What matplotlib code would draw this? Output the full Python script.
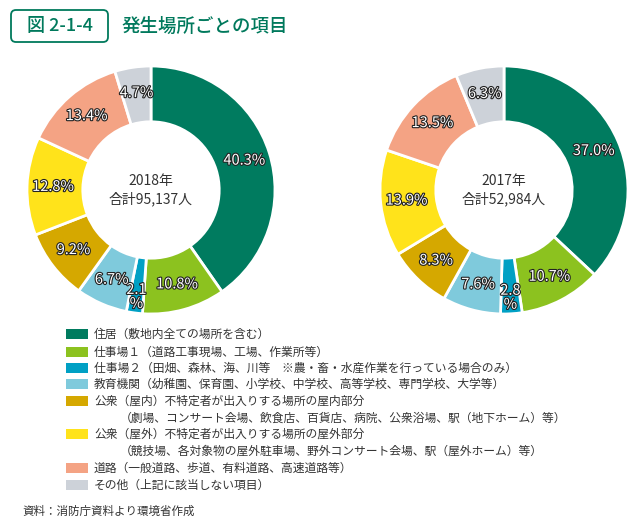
import matplotlib
matplotlib.use("Agg")
import matplotlib.pyplot as plt
import matplotlib.patheffects as pe
from matplotlib.patches import FancyBboxPatch, Rectangle
import numpy as np

plt.rcParams['font.family'] = ['Noto Sans CJK JP', 'DejaVu Sans']

categories = [
    "住居（敷地内全ての場所を含む）",
    "仕事場１（道路工事現場、工場、作業所等）",
    "仕事場２（田畑、森林、海、川等　※農・畜・水産作業を行っている場合のみ）",
    "教育機関（幼稚園、保育園、小学校、中学校、高等学校、専門学校、大学等）",
    "公衆（屋内）不特定者が出入りする場所の屋内部分\n（劇場、コンサート会場、飲食店、百貨店、病院、公衆浴場、駅（地下ホーム）等）",
    "公衆（屋外）不特定者が出入りする場所の屋外部分\n（競技場、各対象物の屋外駐車場、野外コンサート会場、駅（屋外ホーム）等）",
    "道路（一般道路、歩道、有料道路、高速道路等）",
    "その他（上記に該当しない項目）",
]
colors = ["#007B5F", "#8CC21F", "#00A0C4", "#7FCADC", "#D5A800", "#FFE31B", "#F4A384", "#CDD2D9"]

values_2018 = [40.3, 10.8, 2.1, 6.7, 9.2, 12.8, 13.4, 4.7]
values_2017 = [37.0, 10.7, 2.8, 7.6, 8.3, 13.9, 13.5, 6.3]
center_2018 = "2018年\n合計95,137人"
center_2017 = "2017年\n合計52,984人"

W, H = 637, 526
fig = plt.figure(figsize=(W / 100, H / 100), dpi=100)
fig.patch.set_facecolor("white")

GREEN = "#00795C"
TXT = "#333333"

bg = fig.add_axes([0, 0, 1, 1])
bg.set_xlim(0, W)
bg.set_ylim(H, 0)
bg.axis("off")
bg.add_patch(FancyBboxPatch((11, 10), 97, 32, boxstyle="round,pad=0,rounding_size=5",
                            fc="white", ec=GREEN, lw=1.3))
bg.text(59.5, 26, "図 2-1-4", color=GREEN, fontsize=13, ha="center", va="center", fontweight="medium")
bg.text(121, 26, "発生場所ごとの項目", color=GREEN, fontsize=13.3, ha="left", va="center", fontweight="medium")


def donut(cx, cy, vals, ctext):
    R = 124
    ax = fig.add_axes([(cx - R) / W, (H - cy - R) / H, 2 * R / W, 2 * R / H])
    ax.pie(vals, colors=colors, startangle=90, counterclock=False,
           radius=1.0, wedgeprops=dict(width=0.45, edgecolor="white", linewidth=2))
    ax.set_xlim(-1, 1)
    ax.set_ylim(-1, 1)
    ax.set_aspect("equal")
    ax.axis("off")
    total = sum(vals)
    cum = 0
    for v in vals:
        mid = 90 - (cum + v / 2) / total * 360
        cum += v
        ang = np.deg2rad(mid)
        if v < 4:
            r = 0.87
            label = f"{v:.1f}\n%"
        else:
            r = 0.79
            label = f"{v:.1f}%"
        ax.text(r * np.cos(ang), r * np.sin(ang), label, ha="center", va="center",
                fontsize=10.5, color="white", linespacing=1.0,
                path_effects=[pe.withStroke(linewidth=1.6, foreground="#222222")])
    ax.text(0, 0, ctext, ha="center", va="center", fontsize=10, color=TXT, linespacing=1.25)


donut(151, 190, values_2018, center_2018)
donut(504, 190, values_2017, center_2017)

row_y = [334, 352, 368, 384, 401, 434, 468, 485]
for y, c, lab in zip(row_y, colors, categories):
    bg.add_patch(Rectangle((66, y - 5), 22, 10, fc=c, ec="none"))
    if "\n" in lab:
        first, second = lab.split("\n")
        bg.text(94, y, first, ha="left", va="center", fontsize=8.5, color=TXT)
        bg.text(120, y + 17, second, ha="left", va="center", fontsize=8.5, color=TXT)
    else:
        bg.text(94, y, lab, ha="left", va="center", fontsize=8.5, color=TXT)

bg.text(22, 511, "資料：消防庁資料より環境省作成", ha="left", va="center", fontsize=8.3, color=TXT)

fig.savefig("out.png", dpi=100, facecolor="white")
